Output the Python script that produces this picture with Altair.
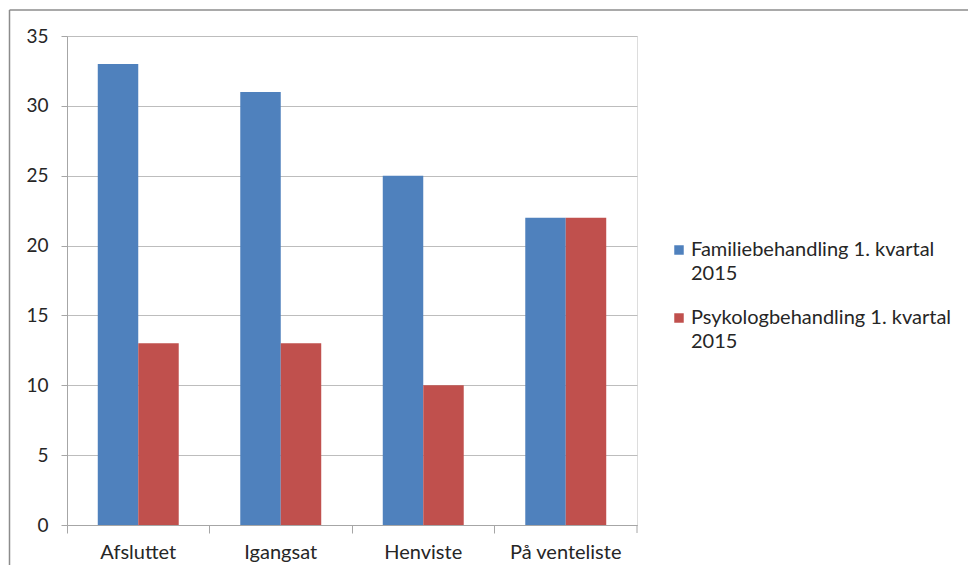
import altair as alt
import pandas as pd

categories = ["Afsluttet", "Igangsat", "Henviste", "På venteliste"]
series = ["Familiebehandling 1. kvartal 2015", "Psykologbehandling 1. kvartal 2015"]
familie = [33, 31, 25, 22]
psykolog = [13, 13, 10, 22]
colors = ["#4F81BD", "#C0504D"]
y_ticks = [0, 5, 10, 15, 20, 25, 30, 35]

rows = []
for c, v in zip(categories, familie):
    rows.append({"kategori": c, "serie": series[0], "antal": v})
for c, v in zip(categories, psykolog):
    rows.append({"kategori": c, "serie": series[1], "antal": v})
df = pd.DataFrame(rows)

FONT = "Lato"
W, H = 570, 489

bars = alt.Chart(df).mark_bar().encode(
    x=alt.X("kategori:N", sort=categories,
            scale=alt.Scale(paddingInner=0, paddingOuter=0),
            axis=alt.Axis(title=None, labelAngle=0, bandPosition=0, tickSize=8,
                          labelPadding=9, labelFontSize=20, labelFont=FONT,
                          labelColor="#262626", domainColor="#A6A6A6", tickColor="#A6A6A6",
                          grid=False)),
    xOffset=alt.XOffset("serie:N", sort=series,
                        scale=alt.Scale(paddingInner=0, paddingOuter=0.76)),
    y=alt.Y("antal:Q", scale=alt.Scale(domain=[0, 35], nice=False),
            axis=alt.Axis(title=None, values=y_ticks, tickSize=6, labelPadding=13,
                          labelFontSize=19, labelFont=FONT, labelColor="#262626",
                          domainColor="#A6A6A6", tickColor="#A6A6A6",
                          gridColor="#BDBDBD", grid=True)),
    color=alt.Color("serie:N", sort=series,
                    scale=alt.Scale(domain=series, range=colors),
                    legend=alt.Legend(title=None, orient="none", legendX=602, legendY=204,
                                      symbolType="square", symbolSize=90, symbolStrokeWidth=0,
                                      labelOffset=2, labelFontSize=20, labelFont=FONT,
                                      labelColor="#262626", labelBaseline="middle",
                                      labelLimit=400, rowPadding=24, padding=0,
                                      labelExpr="[substring(datum.label, 0, length(datum.label) - 5), substring(datum.label, length(datum.label) - 4)]")),
)

one = pd.DataFrame({"a": [0]})
last_tick = alt.Chart(one).mark_rule(color="#A6A6A6", strokeWidth=1).encode(
    x=alt.value(W), y=alt.value(H), y2=alt.value(H + 8)
)
frame_top = alt.Chart(one).mark_rule(color="#8C8C8C", strokeWidth=1.5).encode(
    x=alt.value(-57.5), x2=alt.value(1200), y=alt.value(-26)
)
frame_left = alt.Chart(one).mark_rule(color="#8C8C8C", strokeWidth=1.5).encode(
    x=alt.value(-57.5), y=alt.value(-26), y2=alt.value(900)
)

chart = alt.layer(frame_top, frame_left, bars, last_tick).properties(
    width=W, height=H,
    autosize=alt.AutoSizeParams(type="none"),
    padding={"left": 59, "top": 28, "right": 331, "bottom": 40},
).configure_view(stroke=None).configure(
    background="white",
    style={"guide-label": {"lineHeight": 24}},
)

chart.save("out.html", embed_options={"renderer": "svg", "actions": False})
